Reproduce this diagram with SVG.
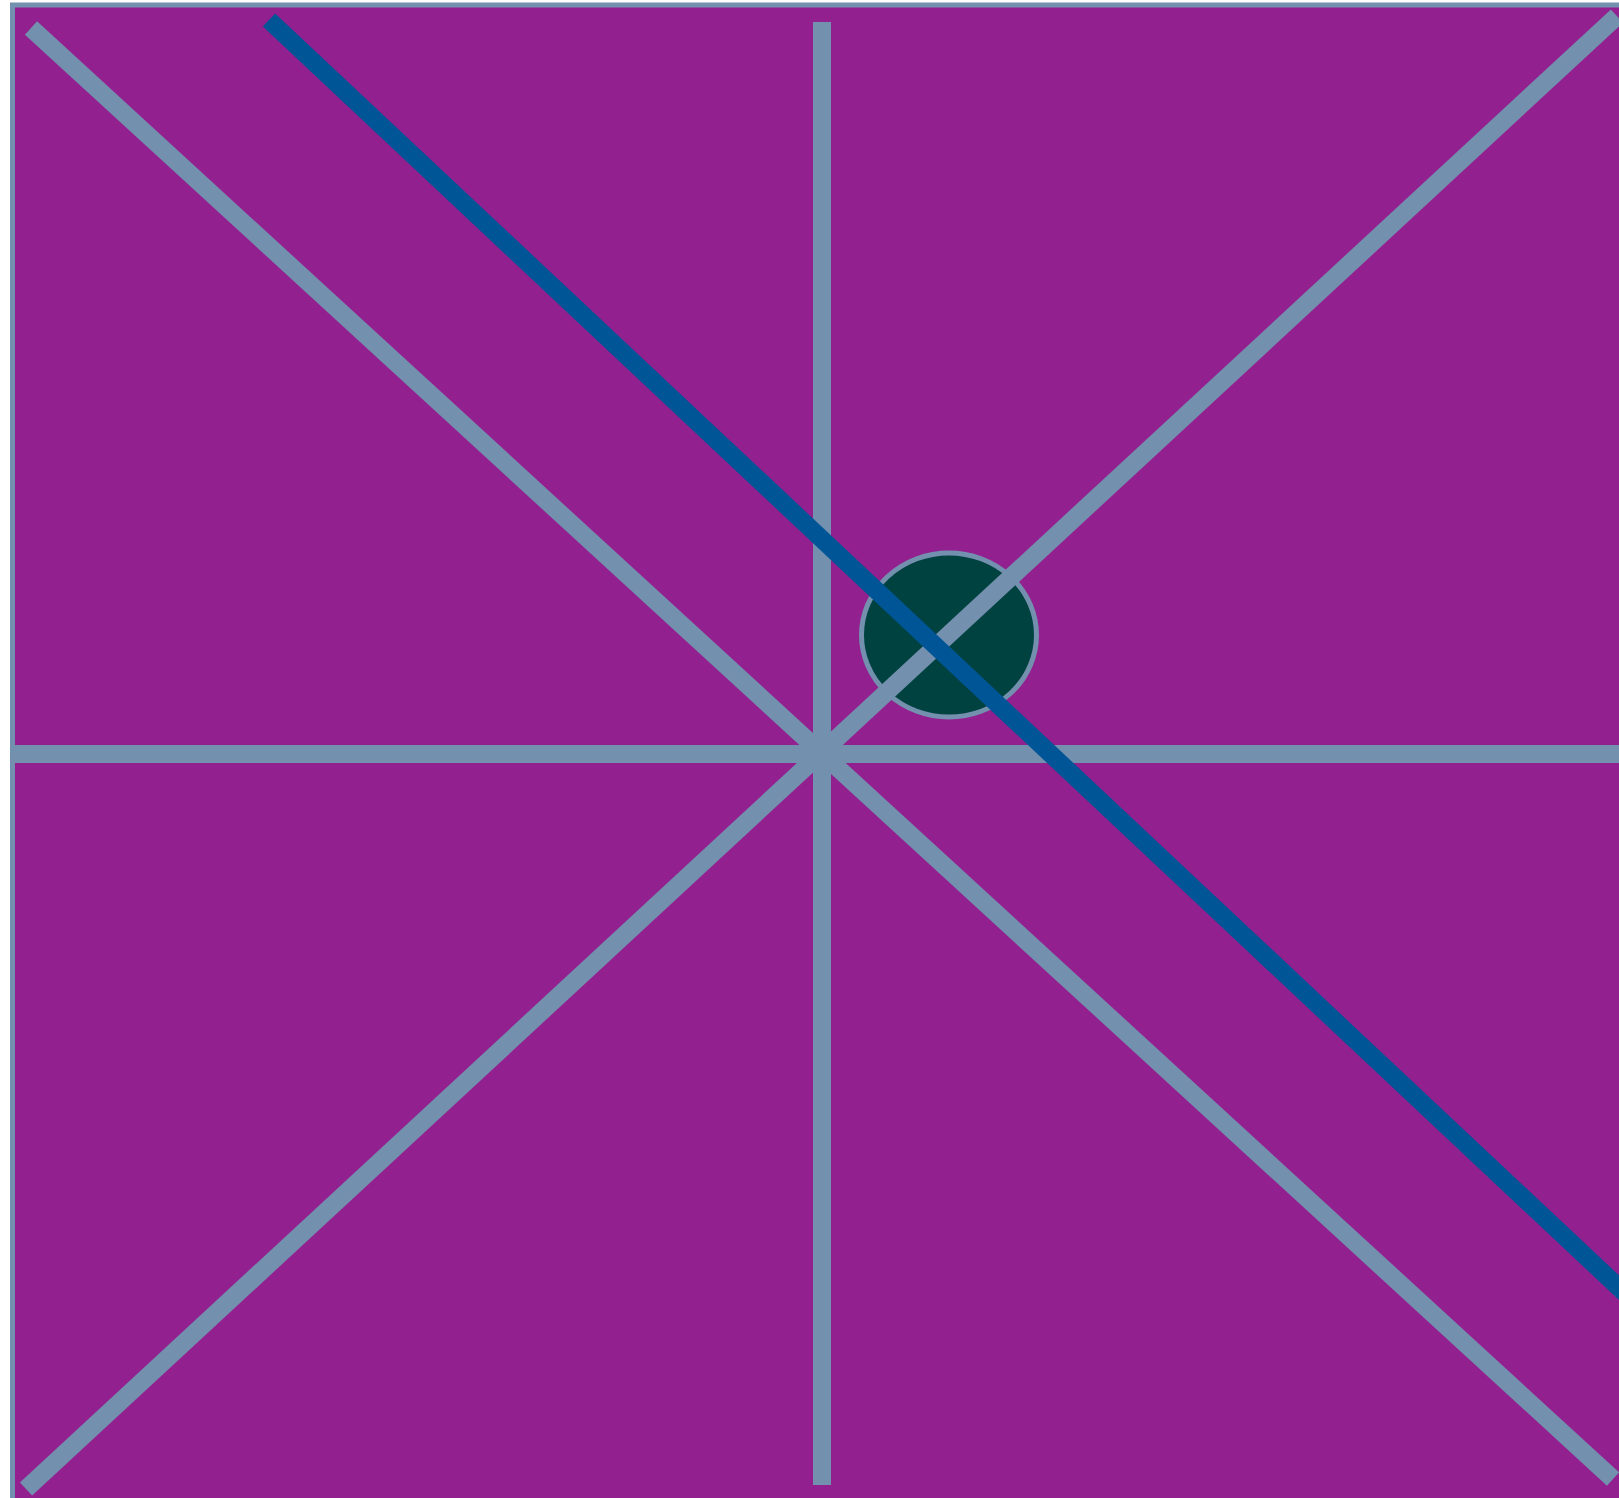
<svg xmlns="http://www.w3.org/2000/svg" width="1619" height="1498" viewBox="0 0 1619 1498">
  <style>
    .frame { fill: #93208f; stroke: #7390ae; stroke-width: 5; }
    .spoke { stroke: #7390ae; stroke-width: 18; stroke-linecap: butt; fill: none; }
    .blue { stroke: #005596; stroke-width: 18; stroke-linecap: butt; fill: none; }
    .hub { fill: #00423f; stroke: #7390ae; stroke-width: 5; }
  </style>
  <rect width="1619" height="1498" fill="#ffffff"/>
  <g id="frame">
    <rect class="frame" x="12.5" y="5" width="1640" height="1520"/>
  </g>
  <g id="hub">
    <ellipse class="hub" cx="949" cy="635" rx="87.5" ry="82"/>
  </g>
  <g id="connectors">
    <line class="spoke" x1="822" y1="22" x2="822" y2="1485"/>
    <line class="spoke" x1="10" y1="754" x2="1625" y2="754"/>
    <line class="spoke" x1="31" y1="28" x2="1613" y2="1479"/>
    <line class="spoke" x1="26" y1="1489" x2="1617" y2="16"/>
    <line class="blue" x1="269" y1="20" x2="1630" y2="1298"/>
  </g>
</svg>
